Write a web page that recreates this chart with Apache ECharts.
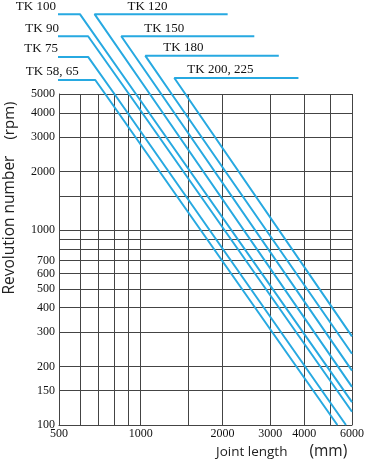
<!DOCTYPE html>
<html>
<head>
<meta charset="utf-8">
<script src="https://cdn.jsdelivr.net/npm/echarts@6/dist/echarts.min.js"></script>
<style>
html,body{margin:0;padding:0;background:#fff;}
#chart{width:367px;height:462px;}
</style>
</head>
<body>
<div id="chart"></div>
<script>
// ---- data ----
const lineNames   = ['TK 58, 65', 'TK 75', 'TK 90', 'TK 100', 'TK 120', 'TK 150', 'TK 180', 'TK 200, 225'];
// leader (label) line: outer end (mm) and height (rpm)
const leaderEndMM = [369, 363, 348, 325, 2090, 2620, 3225, 3810];
const leaderRpm   = [5900, 7750, 9900, 12850, 12850, 9900, 7850, 6040];
// bend of leader into diagonal (mm)
const cornerMM    = [680, 640, 640, 597, 676, 848, 1040, 1330];
// joint length where each line crosses 5000 rpm
const topMM       = [740, 800, 905, 960, 1080, 1190, 1300, 1460];
// end of each line
const endMM       = [5300, 5700, 6000, 6000, 6000, 6000, 6000, 6000];
const endRpm      = [100, 100, 117, 131, 157, 190, 232, 285];

const yGridValues  = [100, 150, 200, 300, 400, 500, 600, 700, 800, 900, 1000, 1500, 2000, 3000, 4000, 5000];
const yLabelValues = [100, 150, 200, 300, 400, 500, 600, 700, 1000, 2000, 3000, 4000, 5000];
const xGridValues  = [500, 600, 700, 800, 900, 1000, 1500, 2000, 3000, 4000, 5000, 6000];
const xLabelValues = [500, 1000, 2000, 3000, 4000, 6000];

const yTitle = 'Revolution number';
const yUnit = '(rpm)';
const xTitle = 'Joint length';
const xUnit = '(mm)';

// ---- layout / style ----
const labelDx = [-43, -47, -46, -44, 53, 43, 38, 46];
const BLUE = '#27a9e1';
const GRID = '#444';
const serif = 'Liberation Serif';
const sans = 'Open Sans';

const chart = echarts.init(document.getElementById('chart'), null, {renderer: 'canvas'});

const series = lineNames.map((n, i) => ({
  type: 'line',
  name: n,
  clip: false,
  silent: true,
  showSymbol: true,
  symbol: 'circle',
  symbolSize: 1,
  itemStyle: {color: 'rgba(0,0,0,0)', borderWidth: 0},
  lineStyle: {color: BLUE, width: 2},
  label: {show: false},
  emphasis: {disabled: true},
  data: [
    [leaderEndMM[i], leaderRpm[i]],
    {
      value: [cornerMM[i], leaderRpm[i]],
      label: {
        show: true,
        formatter: n,
        position: 'top',
        distance: 1,
        offset: [labelDx[i], 0],
        color: '#111',
        fontFamily: serif,
        fontSize: 13,
        lineHeight: 13
      }
    },
    [topMM[i], 5000],
    [endMM[i], endRpm[i]]
  ]
}));

chart.setOption({
  animation: false,
  grid: {left: 59, right: 9, top: 94, bottom: 37, containLabel: false},
  xAxis: {
    type: 'log',
    min: 500,
    max: 6000,
    axisLine: {show: true, lineStyle: {color: GRID, width: 1}},
    axisTick: {show: false, customValues: xGridValues},
    splitLine: {show: true, lineStyle: {color: GRID, width: 1}},
    minorSplitLine: {show: false},
    axisLabel: {
      customValues: xLabelValues,
      formatter: v => String(v),
      color: '#111',
      fontFamily: serif,
      fontSize: 12,
      margin: 3
    }
  },
  yAxis: {
    type: 'log',
    min: 100,
    max: 5000,
    axisLine: {show: true, lineStyle: {color: GRID, width: 1}},
    axisTick: {show: false, customValues: yGridValues},
    splitLine: {show: true, lineStyle: {color: GRID, width: 1}},
    axisLabel: {
      customValues: yLabelValues,
      formatter: v => String(v),
      color: '#111',
      fontFamily: serif,
      fontSize: 12,
      margin: 4
    }
  },
  graphic: [
    {
      type: 'text',
      x: 10,
      y: 198,
      rotation: Math.PI / 2,
      style: {
        text: '{a|' + yTitle + '}{b|' + yUnit + '}',
        align: 'center',
        verticalAlign: 'middle',
        fill: '#222',
        rich: {
          a: {fontFamily: sans, fontSize: 15.5, fill: '#222'},
          b: {fontFamily: sans, fontSize: 15, fill: '#222', padding: [0, 0, 0, 16]}
        }
      }
    },
    {
      type: 'text',
      x: 216,
      y: 452,
      style: {
        text: '{a|' + xTitle + '}{b|' + xUnit + '}',
        align: 'left',
        verticalAlign: 'middle',
        fill: '#222',
        rich: {
          a: {fontFamily: sans, fontSize: 13.5, fill: '#222'},
          b: {fontFamily: sans, fontSize: 15.5, fill: '#222', padding: [0, 0, 0, 22]}
        }
      }
    }
  ],
  series: series
});
</script>
</body>
</html>
